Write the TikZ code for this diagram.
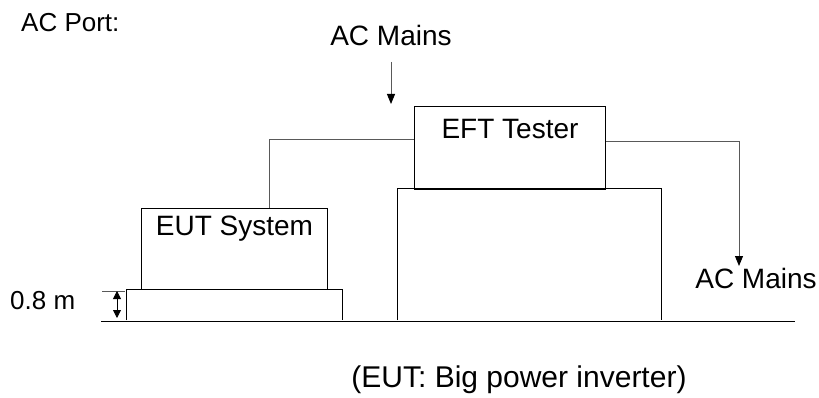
\documentclass[tikz,border=0pt]{standalone}
\usepackage{fontspec}
\setmainfont{Liberation Sans}
\usetikzlibrary{arrows.meta}
\tikzset{
  box/.style={draw=black, line width=1pt, inner sep=0pt, anchor=north west},
  wire/.style={draw=black!65, line width=0.9pt},
  tip/.style={-{Triangle[length=10pt,width=8pt,color=black]}},
  dimtip/.style={-{Triangle[length=8pt,width=8pt,color=black]}},
  big/.style={font=\fontsize{28}{32}\selectfont},
  small/.style={font=\fontsize{26}{30}\selectfont},
  captiontext/.style={font=\fontsize{30}{34}\selectfont},
}
\begin{document}
\begin{tikzpicture}[x=1pt,y=-1pt]
\useasboundingbox (0,0) rectangle (819,398);
% labels
\node[small, anchor=west, inner sep=0pt] (acport) at (21,23) {AC Port:};
\node[big] (acmainstop) at (391,35) {AC Mains};
\node[big] (acmainsright) at (756,278) {AC Mains};
\node[small, anchor=west, inner sep=0pt] (height) at (10,301) {0.8 m};
\node[captiontext] (caption) at (519,380) {(EUT: Big power inverter)};
% EFT tester box
\node[box, minimum width=191pt, minimum height=83pt] (eft) at (414,106) {};
\node[big] (efttext) at (eft.north |- 0,129) {EFT Tester};
% big support box (no bottom edge)
\coordinate (sbl) at (397,320);
\coordinate (str) at (661,189);
\draw[line width=1pt] (sbl) -- (sbl |- str) -- (str) -- (str |- sbl);
% EUT system box
\node[box, minimum width=186pt, minimum height=81pt] (eut) at (141,208) {};
\node[big] (euttext) at (eut.north |- 0,229) {EUT System};
% table
\coordinate (tbl) at (126,320);
\coordinate (ttr) at (342,289);
\draw[line width=1pt] (tbl) -- (tbl |- ttr) -- (ttr) -- (ttr |- tbl);
% ground
\coordinate (g1) at (101,321);
\coordinate (g2) at (795,321);
\draw[line width=1pt] (g1) -- (g2);
% AC mains arrow top
\coordinate (amt1) at (391,62);
\coordinate (amt2) at (391,104);
\draw[wire, tip] (amt1) -- (amt2);
% EFT to EUT
\coordinate (c1) at (269,139);
\draw[wire] (eft.west |- c1) -- (c1) -- (c1 |- eut.north);
% EFT to AC mains right
\coordinate (c2) at (739,141);
\coordinate (c3) at (739,266);
\draw[wire, tip] (eft.east |- c2) -- (c2) -- (c3);
% dimension
\coordinate (d0) at (102,291);
\coordinate (d1) at (125,291);
\draw[wire] (d0) -- (d1);
\coordinate (dm) at (117,303);
\coordinate (dt) at (117,291);
\coordinate (db) at (117,318);
\draw[line width=0.8pt, dimtip] (dm) -- (dt);
\draw[line width=0.8pt, dimtip] (dm) -- (db);
\end{tikzpicture}
\end{document}
